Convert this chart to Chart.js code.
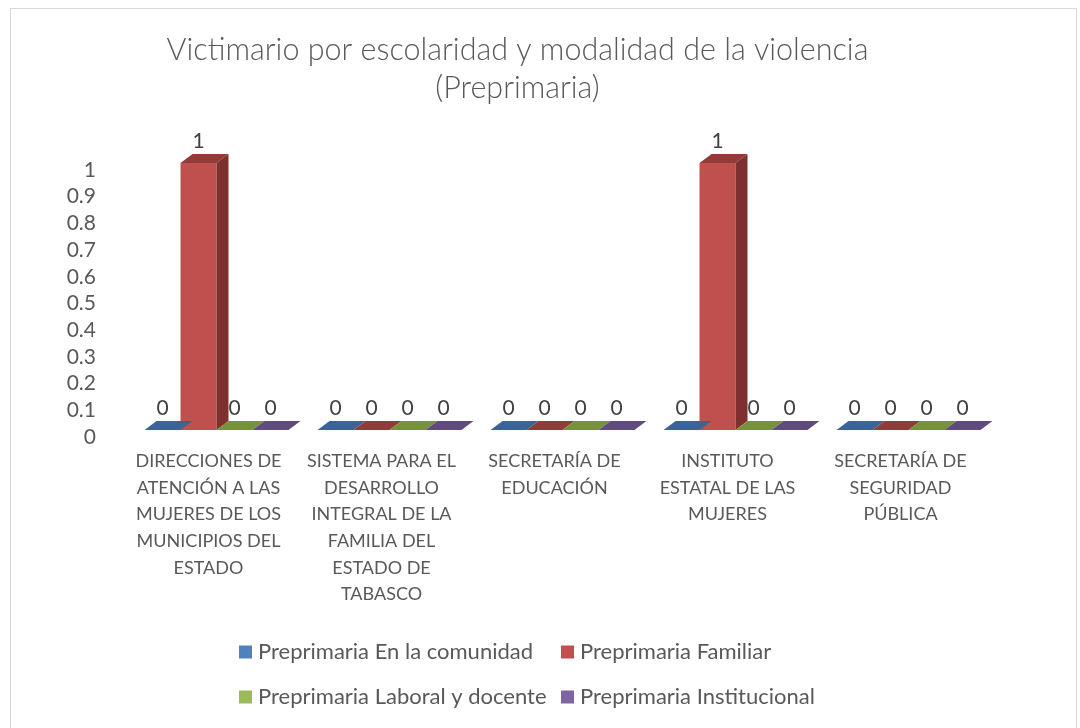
<!DOCTYPE html>
<html>
<head>
<meta charset="utf-8">
<script src="https://cdn.jsdelivr.net/npm/chart.js@4.4.0/dist/chart.umd.min.js"></script>
<style>
html, body { margin: 0; padding: 0; background: #fff; }
#wrap { width: 1080px; height: 728px; position: relative; }
</style>
</head>
<body>
<div id="wrap"><canvas id="myChart"></canvas></div>
<script>
// categories (already wrapped like in the original)
var categories = [
    ['DIRECCIONES DE', 'ATENCIÓN A LAS', 'MUJERES DE LOS', 'MUNICIPIOS DEL', 'ESTADO'],
    ['SISTEMA PARA EL', 'DESARROLLO', 'INTEGRAL DE LA', 'FAMILIA DEL', 'ESTADO DE', 'TABASCO'],
    ['SECRETARÍA DE', 'EDUCACIÓN'],
    ['INSTITUTO', 'ESTATAL DE LAS', 'MUJERES'],
    ['SECRETARÍA DE', 'SEGURIDAD', 'PÚBLICA']
];
var seriesNames = ['Preprimaria En la comunidad', 'Preprimaria Familiar', 'Preprimaria Laboral y docente', 'Preprimaria Institucional'];
var comunidad = [0, 0, 0, 0, 0];
var familiar = [1, 0, 0, 1, 0];
var laboral = [0, 0, 0, 0, 0];
var institucional = [0, 0, 0, 0, 0];
var yTicks = [0, 0.1, 0.2, 0.3, 0.4, 0.5, 0.6, 0.7, 0.8, 0.9, 1];

var frontColors = ['#4F81BD', '#C0504D', '#9BBB59', '#8064A2'];
var topColors = ['#3B6494', '#913C3A', '#77923F', '#614B7D'];
var sideColors = ['#2F5078', '#7D302E', '#607634', '#4D3C64'];

var FONT = 'Lato, "Open Sans", sans-serif';
var DX = 12, DY = -9;

var ctx = document.getElementById('myChart');

// white page + light frame
var framePlugin = {
    id: 'frame',
    beforeDraw: function(chart) {
        var c = chart.ctx;
        c.save();
        c.fillStyle = '#fff';
        c.fillRect(0, 0, chart.width, chart.height);
        c.strokeStyle = '#d9d9d9';
        c.lineWidth = 1;
        c.strokeRect(10.5, 8.5, 1066, 740);
        c.restore();
    }
};

// fake 3d: top + side faces and the value labels
var bars3d = {
    id: 'bars3d',
    afterDatasetsDraw: function(chart) {
        var c = chart.ctx;
        c.save();
        chart.data.datasets.forEach(function(ds, i) {
            var meta = chart.getDatasetMeta(i);
            meta.data.forEach(function(bar, j) {
                var l = bar.x - bar.width / 2, r = bar.x + bar.width / 2;
                var top = Math.min(bar.y, bar.base), bot = Math.max(bar.y, bar.base);
                // top face
                c.fillStyle = topColors[i];
                c.beginPath();
                c.moveTo(l, top);
                c.lineTo(l + DX, top + DY);
                c.lineTo(r + DX, top + DY);
                c.lineTo(r, top);
                c.closePath();
                c.fill();
                // side face
                if (bot - top > 0.5) {
                    c.fillStyle = sideColors[i];
                    c.beginPath();
                    c.moveTo(r, top);
                    c.lineTo(r + DX, top + DY);
                    c.lineTo(r + DX, bot + DY);
                    c.lineTo(r, bot);
                    c.closePath();
                    c.fill();
                }
                // value label
                c.fillStyle = '#404040';
                c.font = '21px ' + FONT;
                c.textAlign = 'center';
                c.textBaseline = 'alphabetic';
                c.fillText(String(ds.data[j]), bar.x, top + DY - 6);
            });
        });
        c.restore();
    }
};

// legend laid out on a grid like the original
var gridLegend = {
    id: 'gridLegend',
    afterDraw: function(chart) {
        var c = chart.ctx;
        var cols = [239, 561];
        var rows = [652, 697];
        c.save();
        c.font = '22px ' + FONT;
        c.textBaseline = 'middle';
        c.textAlign = 'left';
        chart.data.datasets.forEach(function(ds, i) {
            var x = cols[i % 2], y = rows[Math.floor(i / 2)];
            c.fillStyle = frontColors[i];
            c.fillRect(x, y - 6.5, 13, 13);
            c.fillStyle = '#595959';
            c.fillText(ds.label, x + 19, y);
        });
        c.restore();
    }
};

var seriesData = [comunidad, familiar, laboral, institucional];

var graphData = {
    type: 'bar',
    data: {
        labels: categories,
        datasets: seriesData.map(function(d, i) {
            return {
                label: seriesNames[i],
                data: d,
                backgroundColor: frontColors[i],
                borderWidth: 0,
                barPercentage: 1.0,
                categoryPercentage: 0.832
            };
        })
    },
    options: {
        responsive: true,
        maintainAspectRatio: false,
        animation: false,
        layout: {
            padding: { left: 40, right: 85, top: 0, bottom: 98 }
        },
        plugins: {
            legend: { display: false },
            tooltip: { enabled: false },
            title: {
                display: true,
                text: ['Victimario por escolaridad y modalidad de la violencia', '(Preprimaria)'],
                color: '#595959',
                font: { family: FONT, size: 30.5, weight: '300', lineHeight: 38 / 30.5 },
                padding: { top: 31, bottom: 56 }
            }
        },
        scales: {
            x: {
                grid: { display: false, drawTicks: false },
                border: { display: false },
                ticks: {
                    color: '#595959',
                    font: { family: FONT, size: 18, lineHeight: 26.6 / 18 },
                    padding: 18,
                    labelOffset: -8,
                    maxRotation: 0,
                    autoSkip: false
                },
                afterFit: function(s) { s.height = 200; }
            },
            y: {
                min: 0,
                max: 1,
                grid: { display: false, drawTicks: false },
                border: { display: false },
                afterBuildTicks: function(s) {
                    s.ticks = yTicks.map(function(v) { return { value: v }; });
                },
                ticks: {
                    color: '#595959',
                    font: { family: FONT, size: 21 },
                    padding: 34,
                    labelOffset: 7,
                    autoSkip: false,
                    callback: function(v) { return String(Math.round(v * 10) / 10); }
                },
                afterFit: function(s) { s.width = 90; }
            }
        }
    },
    plugins: [framePlugin, bars3d, gridLegend]
};

var myChart = new Chart(ctx, graphData);
</script>
</body>
</html>
